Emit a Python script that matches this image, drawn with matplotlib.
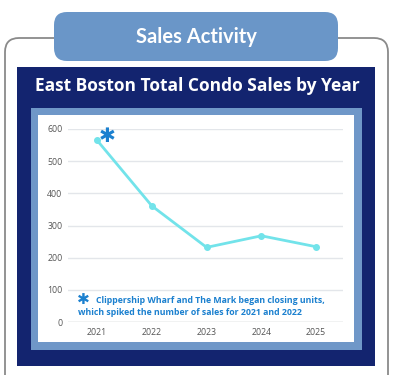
import matplotlib
matplotlib.use('Agg')
import matplotlib.pyplot as plt
from matplotlib.patches import FancyBboxPatch, Rectangle

# Data

years = [2021, 2022, 2023, 2024, 2025]
sales = [565, 361, 232, 268, 234]
y_ticks = [0, 100, 200, 300, 400, 500, 600]

header = 'Sales Activity'
title = 'East Boston Total Condo Sales by Year'
note_1 = 'Clippership Wharf and The Mark began closing units,'
note_2 = 'which spiked the number of sales for 2021 and 2022'

navy = '#13246f'
frame_blue = '#6f97c8'
line_cyan = '#72e3ea'
note_blue = '#1b80cf'

fig = plt.figure(figsize=(4.0, 3.75), dpi=100)
fig.patch.set_facecolor('white')

# Background decorations in pixel coordinates

bg = fig.add_axes([0, 0, 1, 1], zorder=0)
bg.set_xlim(0, 400)
bg.set_ylim(375, 0)
bg.axis('off')

bg.add_patch(FancyBboxPatch((5, 38), 383, 360, boxstyle='round,pad=0,rounding_size=14',
                            facecolor='white', edgecolor='#8a8a8a', linewidth=1.3))
bg.add_patch(Rectangle((17, 67), 358, 299, facecolor=navy, edgecolor='none'))
bg.add_patch(Rectangle((31, 108), 331, 242, facecolor=frame_blue, edgecolor='none'))
bg.add_patch(Rectangle((38, 115), 316, 227, facecolor='white', edgecolor='none'))
bg.add_patch(FancyBboxPatch((54, 12), 284, 49, boxstyle='round,pad=0,rounding_size=13',
                            facecolor='#6a96c8', edgecolor='none'))

bg.text(196, 37, header, color='white', fontsize=14.5, fontweight='bold',
        family='Lato', ha='center', va='center')
bg.text(197, 86, title, color='white', fontsize=12.5, fontweight='bold',
        family='Open Sans', ha='center', va='center')

# Line chart

ax = fig.add_axes([0.17, 0.1413, 0.6875, 0.5147], zorder=1)
ax.set_facecolor('none')
ax.plot(years, sales, color=line_cyan, linewidth=2.0, marker='o', markersize=4)

ax.set_xlim(2020.47, 2025.49)
ax.set_ylim(0, 600)
ax.set_xticks(years)
ax.set_yticks(y_ticks)
ax.tick_params(length=0, labelsize=6.3, labelcolor='#555555', pad=4)
for lab in ax.get_xticklabels() + ax.get_yticklabels():
    lab.set_family('Open Sans')
ax.grid(axis='y', color='#e3e6ea', linewidth=1.0)
ax.set_axisbelow(True)
for s in ax.spines.values():
    s.set_visible(False)
ax.axhline(0, color='#cfcfcf', linewidth=1.0, zorder=0.5)

# Annotations

ax.text(years[0] + 0.18, 578, '\u2731', color=note_blue, fontsize=14.5,
        family='DejaVu Sans', ha='center', va='center')
ax.text(0.031, 0.116, '\u2731', transform=ax.transAxes, color=note_blue, fontsize=11,
        family='DejaVu Sans', ha='left', va='center')
ax.text(0.102, 0.109, note_1, transform=ax.transAxes, color=note_blue, fontsize=6.3,
        fontweight='bold', family='Open Sans', ha='left', va='center')
ax.text(0.036, 0.050, note_2, transform=ax.transAxes, color=note_blue, fontsize=6.3,
        fontweight='bold', family='Open Sans', ha='left', va='center')

plt.savefig('out.png', dpi=100)
plt.close()
